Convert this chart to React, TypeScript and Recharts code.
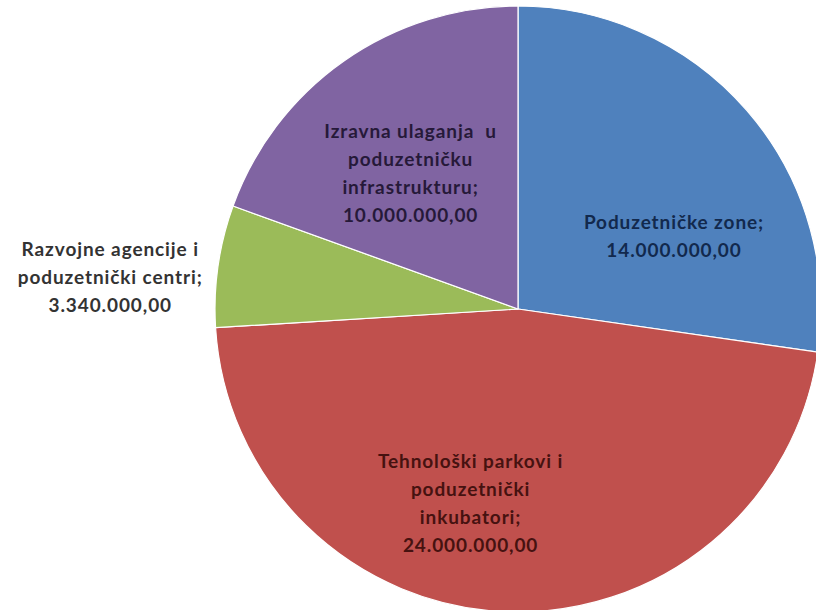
import { PieChart, Pie, Cell } from 'recharts'

const categories = [
  'Poduzetničke zone;',
  'Tehnološki parkovi i\npoduzetnički\ninkubatori;',
  'Razvojne agencije i\npoduzetnički centri;',
  'Izravna ulaganja  u\npoduzetničku\ninfrastrukturu;',
]
const amounts = [14000000, 24000000, 3340000, 10000000]

const SLICE_COLORS = ['#4f81bd', '#c0504d', '#9bbb59', '#8064a2']
const TEXT_COLORS = ['#12294d', '#461210', '#333333', '#261939']

// where Excel put each label: shift from mid angle (deg) and distance as share of radius
const LABEL_PLACE = [
  { shift: -15.5, k: 0.57 },
  { shift: -11.5, k: 0.655 },
  { shift: 3.6, k: 1.35 },
  { shift: 3.0, k: 0.575 },
]

const RAD = Math.PI / 180
const LINE_H = 28

function fmt(v: number) {
  const s = String(Math.round(v))
  const withDots = s.replace(/\B(?=(\d{3})+(?!\d))/g, '.')
  return withDots + ',00'
}

const data = categories.map((name, i) => ({ name, value: amounts[i] }))

function renderLabel(props: any) {
  const { cx, cy, midAngle, outerRadius, index } = props
  const place = LABEL_PLACE[index]
  const a = (midAngle + place.shift) * RAD
  const r = outerRadius * place.k
  const x = cx + r * Math.cos(a)
  const y = cy - r * Math.sin(a)
  const lines = [...categories[index].split('\n'), fmt(amounts[index])]
  const top = y - ((lines.length - 1) * LINE_H) / 2
  return (
    <text
      x={x}
      y={top}
      textAnchor="middle"
      dominantBaseline="central"
      fill={TEXT_COLORS[index]}
      fontFamily="Lato, 'Open Sans', sans-serif"
      fontWeight={700}
      fontSize={19}
      letterSpacing={0.9}
    >
      {lines.map((l, i) => (
        <tspan key={i} x={x} dy={i === 0 ? 0 : LINE_H} style={{ whiteSpace: 'pre' }}>
          {l}
        </tspan>
      ))}
    </text>
  )
}

export default function App() {
  return (
    <div style={{ position: 'absolute', top: 0, left: 0, width: 816, height: 610, background: '#fff' }}>
      <PieChart width={816} height={610} margin={{ top: 0, right: 0, bottom: 0, left: 0 }}>
        <Pie
          data={data}
          dataKey="value"
          nameKey="name"
          cx={518}
          cy={309}
          outerRadius={303}
          startAngle={90}
          endAngle={-270}
          stroke="#ffffff"
          strokeWidth={1.2}
          label={renderLabel}
          labelLine={false}
          isAnimationActive={false}
        >
          {data.map((d, i) => (
            <Cell key={d.name} fill={SLICE_COLORS[i]} />
          ))}
        </Pie>
      </PieChart>
    </div>
  )
}
